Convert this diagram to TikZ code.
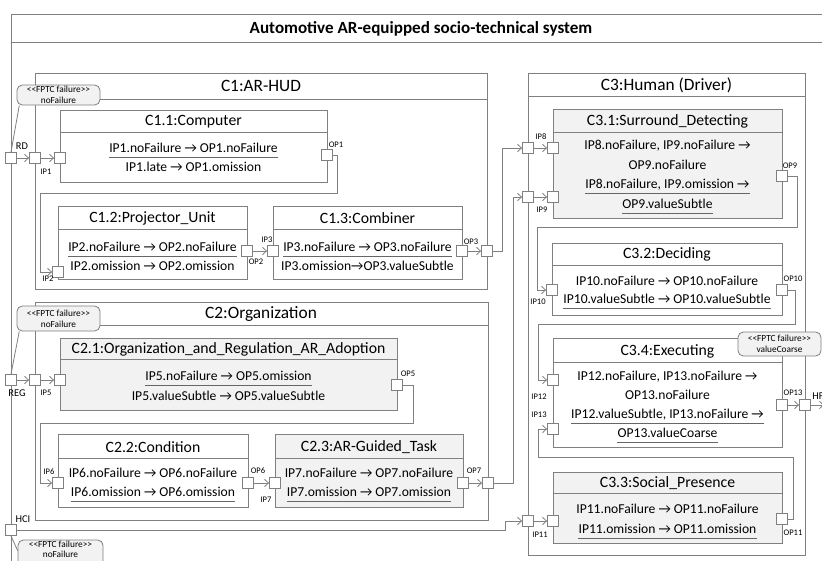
\documentclass[tikz,border=0pt]{standalone}
\usepackage{fontspec}
\setmainfont{Carlito}
\usetikzlibrary{arrows.meta,fit,calc}

\definecolor{edgegray}{RGB}{128,128,128}
\definecolor{panelgray}{RGB}{242,242,242}
\newcommand{\stOpen}{<\kern0pt<}
\newcommand{\stClose}{>\kern0pt>}

\tikzset{
  frame/.style={draw=edgegray, line width=0.75pt, inner sep=0pt},
  part/.style={draw=edgegray, fill=white, line width=0.75pt, inner sep=0pt},
  shaded/.style={part, fill=panelgray},
  port/.style={draw=edgegray, fill=white, line width=0.6pt, minimum size=8.25pt, inner sep=0pt},
  wire/.style={draw=edgegray, line width=0.6pt},
  flow/.style={wire, -{Straight Barb[length=3pt,width=5.5pt]}},
  bigtitle/.style={font=\bfseries\fontsize{12.8}{14}\selectfont, inner sep=0pt},
  grouptitle/.style={font=\fontsize{13}{15}\selectfont, inner sep=0pt},
  parttitle/.style={font=\fontsize{11.8}{13}\selectfont, inner sep=0pt},
  rule/.style={font=\fontsize{10.2}{12}\selectfont, inner sep=0pt, text height=7.3pt, text depth=2.2pt},
  portlabel/.style={font=\fontsize{6.4}{7.5}\selectfont, inner sep=0pt},
  extlabel/.style={font=\fontsize{7.8}{9}\selectfont, inner sep=0pt},
  note/.style={draw=edgegray, fill=panelgray, rounded corners=4pt, line width=0.6pt, inner sep=0pt},
  notetext/.style={font=\fontsize{7}{8}\selectfont, inner sep=0pt, align=center},
  uline/.style={draw=black!60, line width=0.6pt},
  sep/.style={wire, line width=0.75pt},
}

\begin{document}
\begin{tikzpicture}[x=0.75pt,y=-0.75pt]
\useasboundingbox (0,0) rectangle (822,561);
\clip (0,0) rectangle (822,561);
\fill[white] (0,0) rectangle (822,561);

% ---------- system frame ----------
\node[frame, fit={(11,14) (900,640)}] (sys) {};
\draw[sep] ($(sys.north west)+(0,29)$) -- ($(sys.north east)+(0,29)$);
\node[bigtitle] (systitle) at (421,29) {Automotive AR-equipped socio-technical system};

% ---------- C1 : AR-HUD ----------
\node[part, fit={(35,73) (487,289)}] (c1) {};
\draw[sep] ($(c1.north west)+(0,27)$) -- ($(c1.north east)+(0,27)$);
\node[grouptitle] (c1t) at (261,86) {C1:AR-HUD};

\node[part, fit={(60,110) (327,182)}] (c11) {};
\draw[sep] ($(c11.north west)+(0,23)$) -- ($(c11.north east)+(0,23)$);
\node[parttitle] (c11t) at (193.5,121.5) {C1.1:Computer};
\node[rule] (c11a) at (193.5,149) {IP1.noFailure → OP1.noFailure};
\node[rule] (c11b) at (193.5,168) {IP1.late → OP1.omission};
\draw[uline] ([yshift=-6.5pt]c11a.west) -- ([yshift=-6.5pt]c11a.east);

\node[part, fit={(58,206) (247,279)}] (c12) {};
\draw[sep] ($(c12.north west)+(0,24)$) -- ($(c12.north east)+(0,24)$);
\node[parttitle] (c12t) at (152.5,218) {C1.2:Projector\_Unit};
\node[rule] (c12a) at (152.5,248) {IP2.noFailure → OP2.noFailure};
\node[rule] (c12b) at (152.5,267) {IP2.omission → OP2.omission};
\draw[uline] ([yshift=-6.5pt]c12a.west) -- ([yshift=-6.5pt]c12a.east);

\node[part, fit={(273,206) (462,279)}] (c13) {};
\draw[sep] ($(c13.north west)+(0,24)$) -- ($(c13.north east)+(0,24)$);
\node[parttitle] (c13t) at (367.5,218) {C1.3:Combiner};
\node[rule] (c13a) at (367.5,248) {IP3.noFailure → OP3.noFailure};
\node[rule] (c13b) at (367.5,267) {IP3.omission→OP3.valueSubtle};
\draw[uline] ([yshift=-6.5pt]c13a.west) -- ([yshift=-6.5pt]c13a.east);

% ---------- C2 : Organization ----------
\node[part, fit={(35,302) (488,520)}] (c2) {};
\draw[sep] ($(c2.north west)+(0,24)$) -- ($(c2.north east)+(0,24)$);
\node[grouptitle] (c2t) at (261,314) {C2:Organization};

\node[shaded, fit={(60,338) (397,410)}] (c21) {};
\draw[sep] ($(c21.north west)+(0,22)$) -- ($(c21.north east)+(0,22)$);
\node[parttitle] (c21t) at (228.5,349) {C2.1:Organization\_and\_Regulation\_AR\_Adoption};
\node[rule] (c21a) at (228.5,377) {IP5.noFailure → OP5.omission};
\node[rule] (c21b) at (228.5,397) {IP5.valueSubtle → OP5.valueSubtle};
\draw[uline] ([yshift=-6.5pt]c21a.west) -- ([yshift=-6.5pt]c21a.east);

\node[part, fit={(58,434) (248,507)}] (c22) {};
\draw[sep] ($(c22.north west)+(0,25)$) -- ($(c22.north east)+(0,25)$);
\node[parttitle] (c22t) at (153,447) {C2.2:Condition};
\node[rule] (c22a) at (153,474) {IP6.noFailure → OP6.noFailure};
\node[rule] (c22b) at (153,493) {IP6.omission → OP6.omission};
\draw[uline] ([yshift=-6.5pt]c22b.west) -- ([yshift=-6.5pt]c22b.east);

\node[shaded, fit={(275,434) (463,507)}] (c23) {};
\draw[sep] ($(c23.north west)+(0,25)$) -- ($(c23.north east)+(0,25)$);
\node[parttitle] (c23t) at (369,447) {C2.3:AR-Guided\_Task};
\node[rule] (c23a) at (369,474) {IP7.noFailure → OP7.noFailure};
\node[rule] (c23b) at (369,493) {IP7.omission → OP7.omission};
\draw[uline] ([yshift=-6.5pt]c23b.west) -- ([yshift=-6.5pt]c23b.east);

% ---------- C3 : Human (Driver) ----------
\node[part, fit={(528,73) (805,555)}] (c3) {};
\draw[sep] ($(c3.north west)+(0,24)$) -- ($(c3.north east)+(0,24)$);
\node[grouptitle] (c3t) at (666.5,85) {C3:Human (Driver)};

\node[shaded, fit={(553,109) (782,218)}] (c31) {};
\draw[sep] ($(c31.north west)+(0,24)$) -- ($(c31.north east)+(0,24)$);
\node[parttitle] (c31t) at (667.5,121) {C3.1:Surround\_Detecting};
\node[rule] (c31a) at (667.5,146) {IP8.noFailure, IP9.noFailure →};
\node[rule] (c31b) at (667.5,166) {OP9.noFailure};
\node[rule] (c31c) at (667.5,185) {IP8.noFailure, IP9.omission →};
\node[rule] (c31d) at (667.5,205) {OP9.valueSubtle};
\draw[uline] ([yshift=-6.5pt]c31c.west) -- ([yshift=-6.5pt]c31c.east);
\draw[uline] ([yshift=-6.5pt]c31d.west) -- ([yshift=-6.5pt]c31d.east);

\node[part, fit={(552,243) (782,315)}] (c32) {};
\draw[sep] ($(c32.north west)+(0,23)$) -- ($(c32.north east)+(0,23)$);
\node[parttitle] (c32t) at (667,254) {C3.2:Deciding};
\node[rule] (c32a) at (667,282) {IP10.noFailure → OP10.noFailure};
\node[rule] (c32b) at (667,300) {IP10.valueSubtle → OP10.valueSubtle};
\draw[uline] ([yshift=-6.5pt]c32b.west) -- ([yshift=-6.5pt]c32b.east);

\node[part, fit={(553,338) (782,447)}] (c34) {};
\draw[sep] ($(c34.north west)+(0,25)$) -- ($(c34.north east)+(0,25)$);
\node[parttitle] (c34t) at (667.5,351) {C3.4:Executing};
\node[rule] (c34a) at (667.5,377) {IP12.noFailure, IP13.noFailure →};
\node[rule] (c34b) at (667.5,396) {OP13.noFailure};
\node[rule] (c34c) at (667.5,415) {IP12.valueSubtle, IP13.noFailure →};
\node[rule] (c34d) at (667.5,434) {OP13.valueCoarse};
\draw[uline] ([yshift=-6.5pt]c34c.west) -- ([yshift=-6.5pt]c34c.east);
\draw[uline] ([yshift=-6.5pt]c34d.west) -- ([yshift=-6.5pt]c34d.east);

\node[shaded, fit={(553,472) (782,543)}] (c33) {};
\draw[sep] ($(c33.north west)+(0,22)$) -- ($(c33.north east)+(0,22)$);
\node[parttitle] (c33t) at (667.5,483) {C3.3:Social\_Presence};
\node[rule] (c33a) at (667.5,510) {IP11.noFailure → OP11.noFailure};
\node[rule] (c33b) at (667.5,530) {IP11.omission → OP11.omission};
\draw[uline] ([yshift=-6.5pt]c33b.west) -- ([yshift=-6.5pt]c33b.east);

% ---------- ports ----------
\node[port] (rd)     at (11,158)  {};
\node[port] (c1in)   at (35,158)  {};
\node[port] (ip1)    at (60,158)  {};
\node[port] (op1)    at (327,155) {};
\node[port] (ip2)    at (58,272)  {};
\node[port] (op2)    at (247,251) {};
\node[port] (ip3)    at (273,251) {};
\node[port] (op3)    at (462,251) {};
\node[port] (c1out)  at (487,251) {};

\node[port] (reg)    at (11,380)  {};
\node[port] (c2in)   at (35,380)  {};
\node[port] (ip5)    at (60,380)  {};
\node[port] (op5)    at (397,385) {};
\node[port] (ip6)    at (58,483)  {};
\node[port] (op6)    at (248,483) {};
\node[port] (ip7)    at (275,483) {};
\node[port] (op7)    at (463,483) {};
\node[port] (c2out)  at (488,483) {};

\node[port] (hci)    at (11,530)  {};

\node[port] (c3in8)  at (528,148) {};
\node[port] (ip8)    at (553,148) {};
\node[port] (c3in9)  at (528,197) {};
\node[port] (ip9)    at (553,197) {};
\node[port] (op9)    at (782,176) {};
\node[port] (ip10)   at (552,290) {};
\node[port] (op10)   at (782,290) {};
\node[port] (ip12)   at (553,380) {};
\node[port] (ip13)   at (553,429) {};
\node[port] (op13)   at (782,405) {};
\node[port] (hf)     at (805,405) {};
\node[port] (c3in11) at (528,521) {};
\node[port] (ip11)   at (553,521) {};
\node[port] (op11)   at (782,519) {};
\coordinate (hfout) at (824,405);

% ---------- port labels ----------
\node[extlabel]  (rdl)   at (22,146)  {RD};
\node[extlabel]  (regl)  at (17,393)  {REG};
\node[extlabel]  (hcil)  at (23,519)  {HCI};
\node[extlabel]  (hfl)   at (818,396) {HF};
\node[portlabel] (ip1l)  at (46,172)  {IP1};
\node[portlabel] (op1l)  at (336,145) {OP1};
\node[portlabel] (ip2l)  at (48,279)  {IP2};
\node[portlabel] (op2l)  at (256,262) {OP2};
\node[portlabel] (ip3l)  at (267,240) {IP3};
\node[portlabel] (op3l)  at (471,242) {OP3};
\node[portlabel] (ip5l)  at (46,393)  {IP5};
\node[portlabel] (op5l)  at (408,374) {OP5};
\node[portlabel] (ip6l)  at (49,472)  {IP6};
\node[portlabel] (op6l)  at (258,471) {OP6};
\node[portlabel] (ip7l)  at (266,500) {IP7};
\node[portlabel] (op7l)  at (474,471) {OP7};
\node[portlabel] (ip8l)  at (541,137) {IP8};
\node[portlabel] (ip9l)  at (542,210) {IP9};
\node[portlabel] (op9l)  at (790,166) {OP9};
\node[portlabel] (ip10l) at (538,302) {IP10};
\node[portlabel] (op10l) at (793,279) {OP10};
\node[portlabel] (ip12l) at (539,397) {IP12};
\node[portlabel] (ip13l) at (539,415) {IP13};
\node[portlabel] (op13l) at (793,393) {OP13};
\node[portlabel] (ip11l) at (540,535) {IP11};
\node[portlabel] (op11l) at (793,533) {OP11};

% ---------- connectors ----------
\draw[flow] (rd) -- (c1in);
\draw[flow] (c1in) -- (ip1);
\draw[flow] (op1.east) -| (337,193) -| (40,272) -- (ip2.west);
\draw[flow] (op2) -- (ip3);
\draw[flow] (op3) -- (c1out);
\draw[flow] (c1out.east) -| (502,148) -- (c3in8.west);

\draw[flow] (reg) -- (c2in);
\draw[flow] (c2in) -- (ip5);
\draw[flow] (op5.east) -| (413,423) -| (40,483) -- (ip6.west);
\draw[flow] (op6) -- (ip7);
\draw[flow] (op7) -- (c2out);
\draw[flow] (c2out.east) -| (513,197) -- (c3in9.west);

\draw[flow] (hci.east) -| (505,521) -- (c3in11.west);

\draw[flow] (c3in8) -- (ip8);
\draw[flow] (c3in9) -- (ip9);
\draw[flow] (op9.east) -| (797,227) -| (537,290) -- (ip10.west);
\draw[flow] (op10.east) -| (795,324) -| (538,380) -- (ip12.west);
\draw[flow] (op11.east) -| (793,457) -| (538,429) -- (ip13.west);
\draw[flow] (c3in11) -- (ip11);
\draw[flow] (op13) -- (hf);
\draw[flow] (hf) -- (hfout);

% ---------- FPTC failure notes ----------
\node[note, fit={(17,85) (100,105)}] (rdnote) {};
\node[notetext] (rdnotet) at (rdnote.center) {\stOpen FPTC failure\stClose\\noFailure};
\draw[wire] ([xshift=2pt]rdnote.south west) -- (rd.north);

\node[note, fit={(17,306) (100,331)}] (regnote) {};
\node[notetext] (regnotet) at (regnote.center) {\stOpen FPTC failure\stClose\\noFailure};
\draw[wire] ([xshift=2pt]regnote.south west) -- (reg.north);

\node[note, fit={(18,540) (103,580)}] (hcinote) {};
\node[notetext, font=\fontsize{7}{7.4}\selectfont, anchor=north] (hcinotet) at ([yshift=-1.2pt]hcinote.north) {\stOpen FPTC failure\stClose\\noFailure};
\draw[wire] (hci.south) -- ($(hcinote.north west)+(0,11)$);

\node[note, fit={(738,332) (821,356)}] (hfnote) {};
\node[notetext] (hfnotet) at (hfnote.center) {\stOpen FPTC failure\stClose\\valueCoarse};
\end{tikzpicture}
\end{document}
